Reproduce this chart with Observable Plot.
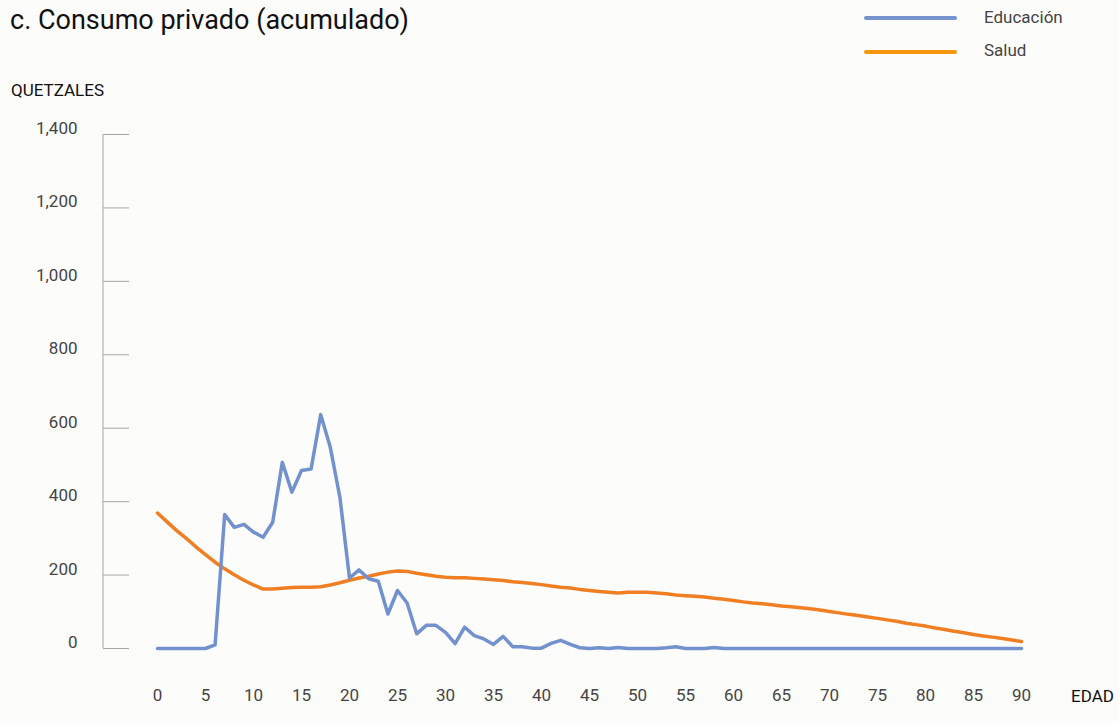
<!DOCTYPE html>
<html>
<head>
<meta charset="utf-8">
<script src="https://cdn.jsdelivr.net/npm/d3@7"></script>
<script src="https://cdn.jsdelivr.net/npm/@observablehq/plot@0.6"></script>
<style>
  html, body { margin: 0; padding: 0; background: #fcfcfb; }
  #wrap { position: relative; width: 1119px; height: 723px; font-family: Roboto, "Noto Sans", sans-serif; background: #fcfcfb; overflow: hidden; }
  #chart { position: absolute; left: 0; top: 0; }
  .abs { position: absolute; white-space: nowrap; line-height: 1; }
  #title { left: 10px; top: 7px; font-size: 27px; color: #111; }
  #ylab { left: 11px; top: 82px; font-size: 17px; color: #111; }
  #xlab { left: 1071px; top: 688px; font-size: 17px; color: #111; }
  .leg { font-size: 17px; color: #444; left: 984px; }
  .legline { position: absolute; left: 864px; width: 93px; height: 4px; border-radius: 2px; }
</style>
</head>
<body>
<div id="wrap">
  <div id="chart"></div>
  <div id="title" class="abs">c. Consumo privado (acumulado)</div>
  <div id="ylab" class="abs">QUETZALES</div>
  <div id="xlab" class="abs">EDAD</div>
  <div class="legline" style="top:16px; background:#7493cf;"></div>
  <div class="abs leg" style="top:9px;">Educación</div>
  <div class="legline" style="top:50px; background:#f5960c;"></div>
  <div class="abs leg" style="top:42px;">Salud</div>
</div>
<script>
const ages = d3.range(0, 91);
const educacion = [
  0, 0, 0, 0, 0, 0, 10, 365, 330, 338,
  317, 303, 344, 507, 426, 485, 489, 637, 548, 412,
  192, 214, 190, 183, 94, 158, 124, 40, 63, 63,
  44, 13, 58, 35, 26, 11, 33, 5, 5, 1,
  1, 14, 22, 11, 2, 0, 2, 0, 3, 0,
  0, 0, 0, 2, 5, 0, 0, 0, 3, 0,
  0, 0, 0, 0, 0, 0, 0, 0, 0, 0,
  0, 0, 0, 0, 0, 0, 0, 0, 0, 0,
  0, 0, 0, 0, 0, 0, 0, 0, 0, 0,
  0
];
const salud = [
  369, 345, 321, 300, 277, 256, 235, 217, 201, 186,
  173, 162, 162, 164, 166, 167, 167, 168, 173, 179,
  186, 192, 197, 203, 208, 211, 210, 205, 201, 197,
  194, 193, 193, 191, 189, 187, 185, 182, 180, 177,
  174, 170, 167, 165, 161, 158, 155, 153, 151, 153,
  153, 153, 151, 149, 146, 144, 142, 140, 137, 134,
  131, 127, 124, 122, 119, 116, 114, 111, 108, 105,
  101, 97, 93, 90, 86, 82, 78, 74, 69, 65,
  61, 56, 52, 47, 43, 38, 34, 31, 27, 23,
  19
];
const xTicks = d3.range(0, 91, 5);
const yTicks = d3.range(0, 1401, 200);

const eduData = ages.map((a, i) => ({edad: a, valor: educacion[i]}));
const salData = ages.map((a, i) => ({edad: a, valor: salud[i]}));

const chart = Plot.plot({
  width: 1119,
  height: 723,
  marginLeft: 157,
  marginRight: 98,
  marginTop: 134,
  marginBottom: 75,
  style: {background: "transparent", fontFamily: "Roboto, 'Noto Sans', sans-serif", fontSize: "17px"},
  x: {domain: [0, 90]},
  y: {domain: [0, 1400]},
  marks: [
    Plot.ruleX([0], {y1: 0, y2: 1400, dx: -54.5, stroke: "#a6a6a6", strokeWidth: 1}),
    Plot.axisY({anchor: "left", ticks: yTicks, tickFormat: () => "", tickSize: 26, tickPadding: 0, dx: -28, stroke: "#a6a6a6", strokeOpacity: 1, label: null}),
    Plot.axisY({anchor: "left", ticks: yTicks, tickFormat: d3.format(","), tickSize: 0, tickPadding: 80, dy: -6, fill: "#444", label: null, fontSize: 17}),
    Plot.axisX({anchor: "bottom", ticks: xTicks, tickSize: 0, tickPadding: 40, fill: "#444", label: null, fontSize: 17}),
    Plot.line(salData, {x: "edad", y: "valor", stroke: "#f07f23", strokeWidth: 3.5}),
    Plot.line(eduData, {x: "edad", y: "valor", stroke: "#7391cd", strokeWidth: 3.5})
  ]
});
document.getElementById("chart").appendChild(chart);
</script>
</body>
</html>
